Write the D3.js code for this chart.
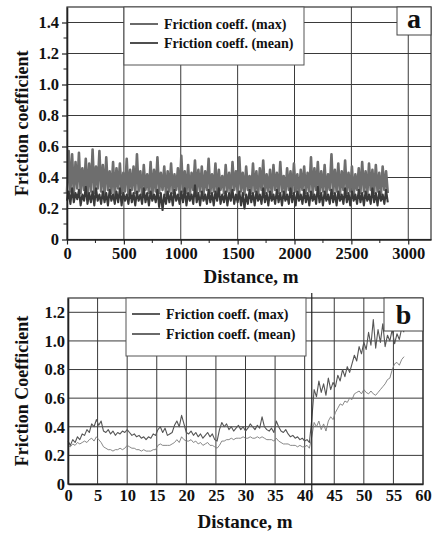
<!DOCTYPE html>
<html>
<head>
<meta charset="utf-8">
<script src="https://cdn.jsdelivr.net/npm/d3@7"></script>
</head>
<body style="margin:0;background:#fff">
<svg id="chart" width="432" height="536" font-family="Liberation Serif" font-weight="bold"></svg>
<script>
// ---- Panel a: long run, sampled every 15 m ----
const aStep = 15;
const aMax = [
  0.30,0.57,0.31,0.55,0.29,0.50,0.33,0.56,0.30,0.46,0.32,0.52,0.28,0.49,0.31,0.58,0.30,0.47,0.33,0.57,
  0.31,0.48,0.29,0.53,0.32,0.44,0.30,0.50,0.28,0.46,0.33,0.49,0.30,0.43,0.31,0.52,0.29,0.45,0.32,0.47,
  0.30,0.55,0.31,0.44,0.29,0.48,0.32,0.42,0.30,0.50,0.28,0.45,0.31,0.53,0.30,0.43,0.32,0.47,0.29,0.44,
  0.31,0.49,0.30,0.42,0.32,0.46,0.29,0.54,0.31,0.44,0.30,0.48,0.28,0.43,0.32,0.51,0.30,0.45,0.31,0.47,
  0.29,0.44,0.32,0.52,0.30,0.42,0.31,0.49,0.28,0.45,0.32,0.41,0.30,0.48,0.31,0.43,0.29,0.50,0.32,0.44,
  0.30,0.53,0.31,0.43,0.29,0.47,0.32,0.41,0.30,0.49,0.31,0.44,0.28,0.46,0.32,0.51,0.30,0.42,0.31,0.45,
  0.29,0.48,0.32,0.43,0.30,0.50,0.31,0.41,0.29,0.46,0.32,0.44,0.30,0.49,0.31,0.42,0.28,0.45,0.32,0.47,
  0.30,0.43,0.31,0.53,0.29,0.46,0.32,0.50,0.30,0.44,0.31,0.48,0.29,0.42,0.32,0.55,0.30,0.45,0.31,0.49,
  0.29,0.44,0.32,0.51,0.30,0.43,0.31,0.47,0.28,0.42,0.32,0.46,0.30,0.50,0.31,0.44,0.29,0.49,0.32,0.45,
  0.30,0.48,0.31,0.43,0.29,0.47,0.32,0.44,0.30
];
const aMean = [
  0.25,0.31,0.23,0.33,0.24,0.30,0.26,0.32,0.22,0.29,0.25,0.34,0.23,0.30,0.24,0.31,0.22,0.33,0.25,0.29,
  0.23,0.31,0.24,0.30,0.22,0.32,0.25,0.29,0.23,0.31,0.24,0.33,0.22,0.30,0.25,0.29,0.23,0.32,0.24,0.30,
  0.22,0.31,0.25,0.29,0.23,0.33,0.24,0.30,0.22,0.31,0.25,0.29,0.24,0.32,0.21,0.30,0.19,0.29,0.23,0.31,
  0.24,0.30,0.22,0.32,0.25,0.29,0.23,0.31,0.24,0.33,0.22,0.30,0.25,0.29,0.23,0.35,0.24,0.30,0.22,0.31,
  0.25,0.29,0.23,0.32,0.24,0.30,0.22,0.31,0.25,0.33,0.23,0.29,0.24,0.31,0.22,0.30,0.25,0.32,0.23,0.29,
  0.24,0.31,0.22,0.30,0.20,0.29,0.23,0.32,0.24,0.30,0.22,0.31,0.25,0.29,0.23,0.33,0.24,0.30,0.22,0.31,
  0.25,0.29,0.23,0.32,0.24,0.30,0.22,0.31,0.25,0.29,0.23,0.33,0.24,0.30,0.22,0.31,0.25,0.29,0.23,0.32,
  0.24,0.30,0.22,0.31,0.25,0.29,0.23,0.34,0.24,0.30,0.22,0.31,0.25,0.29,0.23,0.32,0.24,0.30,0.22,0.31,
  0.25,0.29,0.23,0.33,0.24,0.30,0.22,0.31,0.25,0.29,0.23,0.32,0.24,0.30,0.22,0.31,0.25,0.29,0.23,0.33,
  0.24,0.30,0.22,0.31,0.25,0.29,0.23,0.32,0.24
];
const aXTicks = [0, 500, 1000, 1500, 2000, 2500, 3000];
const aYTicks = [0, 0.2, 0.4, 0.6, 0.8, 1.0, 1.2, 1.4];

// ---- Panel b: short run, sampled every 0.4 m ----
const bStep = 0.4;
const bMax = [
  0.30,0.27,0.31,0.29,0.33,0.31,0.35,0.34,0.38,0.36,0.42,
  0.40,0.45,0.41,0.44,0.37,
  0.36,0.38,0.35,0.37,0.34,0.36,0.35,0.37,0.36,0.38,
  0.36,0.34,0.35,0.33,0.34,0.32,0.33,0.31,0.33,0.32,0.35,0.34,
  0.38,0.40,0.36,0.39,0.34,0.35,0.36,0.41,0.44,0.40,
  0.48,0.42,0.36,0.35,0.37,
  0.34,0.36,0.33,0.35,0.32,0.34,0.36,0.33,0.35,0.31,
  0.30,0.38,0.43,
  0.40,0.42,0.38,0.40,0.37,0.39,0.41,0.38,0.40,0.37,0.39,0.42,0.40,0.38,0.41,0.39,0.47,0.40,0.38,0.37,0.39,0.36,
  0.44,0.40,0.37,0.36,0.38,
  0.35,0.33,0.34,0.32,0.33,0.31,0.32,0.30,0.31,0.29,
  0.45,
  0.66,0.61,0.72,0.64,0.70,0.62,0.74,0.66,0.71,0.68,
  0.76,0.72,0.80,0.75,0.82,0.78,0.84,
  0.90,0.86,0.96,0.91,0.99,
  0.94,1.06,0.97,1.15,0.95,1.08,0.99,1.12,0.96,1.04,
  1.00,1.08,0.98,1.05,1.01,1.09,1.06
];
const bMean = [
  0.27,0.26,0.28,0.27,0.29,0.28,0.29,0.30,0.29,0.31,0.32,
  0.30,0.33,0.31,0.29,0.26,
  0.25,0.24,0.24,0.23,0.24,0.24,0.25,0.24,0.25,0.27,
  0.26,0.25,0.25,0.24,0.24,0.23,0.24,0.23,0.23,0.23,0.24,0.24,
  0.27,0.28,0.27,0.27,0.27,0.27,0.28,0.29,0.31,0.29,
  0.33,0.31,0.30,0.30,0.31,
  0.29,0.30,0.28,0.29,0.27,0.28,0.29,0.27,0.27,0.26,
  0.25,0.27,0.30,
  0.30,0.31,0.31,0.32,0.31,0.32,0.32,0.32,0.33,0.32,0.32,0.33,0.32,0.32,0.33,0.32,0.33,0.32,0.31,0.31,0.31,0.30,
  0.32,0.30,0.29,0.28,0.28,
  0.28,0.27,0.27,0.27,0.26,0.27,0.26,0.26,0.27,0.25,
  0.33,
  0.43,0.40,0.44,0.38,0.42,0.37,0.44,0.47,0.45,0.50,
  0.53,0.56,0.55,0.58,0.57,0.60,0.59,
  0.63,0.64,0.65,0.63,0.66,
  0.64,0.63,0.65,0.63,0.62,0.64,0.66,0.68,0.70,0.73,
  0.74,0.80,0.84,0.85,0.83,0.87,0.89
];
const bXTicks = [0, 5, 10, 15, 20, 25, 30, 35, 40, 45, 50, 55, 60];
const bYTicks = [0, 0.2, 0.4, 0.6, 0.8, 1.0, 1.2];
const bMarker = 41.2;

const legendLabels = ["Friction coeff. (max)", "Friction coeff. (mean)"];

const FONT = "Liberation Serif";
const svg = d3.select("#chart");
const gridColor = "#3a3a3a";
const fmtY = d => d === 0 ? "0" : d3.format(".1f")(d);

// every label goes through here so all text shares one face
function label(sel, size) {
  return sel.attr("font-family", FONT)
    .style("font-family", `"${FONT}"`)
    .style("font-weight", "bold")
    .style("font-size", size + "px")
    .attr("fill", "#111");
}

function panel(opt) {
  const { x, y, xTicks, yTicks, xMinor, yMinor, series, legend, letter, yTitle, xTitleX, xTitleY, tickLen } = opt;
  const [x0, x1] = x.range();
  const [y0, y1] = y.range();
  const g = svg.append("g");

  // gridlines
  g.append("g")
    .selectAll("line").data(yTicks.filter(d => d > 0)).join("line")
    .attr("x1", x0).attr("x2", x1)
    .attr("y1", d => y(d)).attr("y2", d => y(d))
    .attr("stroke", gridColor).attr("stroke-width", 1);
  g.append("g")
    .selectAll("line").data(xTicks.filter(d => d > 0)).join("line")
    .attr("x1", d => x(d)).attr("x2", d => x(d))
    .attr("y1", y0).attr("y2", y1)
    .attr("stroke", gridColor).attr("stroke-width", 1);

  // frame
  g.append("rect")
    .attr("x", x0).attr("y", y1).attr("width", x1 - x0).attr("height", y0 - y1)
    .attr("fill", "none").attr("stroke", "#333").attr("stroke-width", 1.2);

  // data series
  series.forEach(s => {
    const line = d3.line().x((d, i) => x(i * s.step)).y(d => y(d));
    g.append("path").datum(s.values)
      .attr("d", line)
      .attr("fill", "none")
      .attr("stroke", s.color)
      .attr("stroke-width", s.width)
      .attr("stroke-linejoin", "round");
  });

  if (opt.marker !== undefined) {
    g.append("line")
      .attr("x1", x(opt.marker)).attr("x2", x(opt.marker))
      .attr("y1", y1 - 5).attr("y2", y0 + 8)
      .attr("stroke", "#222").attr("stroke-width", 1.2);
  }

  // axes
  const yAxis = d3.axisLeft(y).tickValues(yTicks).tickFormat(fmtY).tickSize(tickLen).tickSizeOuter(0).tickPadding(3);
  const xAxis = d3.axisBottom(x).tickValues(xTicks).tickFormat(d3.format("d")).tickSize(tickLen).tickSizeOuter(0).tickPadding(tickLen > 0 ? 3 : 5);
  const ya = g.append("g").attr("transform", `translate(${x0},0)`).call(yAxis);
  const xa = g.append("g").attr("transform", `translate(0,${y0})`).call(xAxis);
  [ya, xa].forEach(a => {
    a.attr("font-family", FONT).attr("font-size", 16.5);
    a.select(".domain").attr("stroke", "#222").attr("stroke-width", 1.6);
    a.selectAll(".tick line").attr("stroke", "#222").attr("stroke-width", 1.2);
    label(a.selectAll("text"), 16.5);
  });
  if (yMinor) {
    g.append("g").selectAll("line").data(yMinor).join("line")
      .attr("x1", x0 - 3.5).attr("x2", x0).attr("y1", d => y(d)).attr("y2", d => y(d))
      .attr("stroke", "#222").attr("stroke-width", 1);
  }
  if (xMinor) {
    g.append("g").selectAll("line").data(xMinor).join("line")
      .attr("y1", y0).attr("y2", y0 + 3.5).attr("x1", d => x(d)).attr("x2", d => x(d))
      .attr("stroke", "#222").attr("stroke-width", 1);
  }

  // axis titles
  label(g.append("text")
    .attr("transform", `translate(${opt.yTitleX},${(y0 + y1) / 2}) rotate(-90)`)
    .attr("text-anchor", "middle").text(yTitle), 18);
  label(g.append("text")
    .attr("x", xTitleX).attr("y", xTitleY)
    .attr("text-anchor", "middle").text("Distance, m"), 19);

  // legend
  const lg = g.append("g");
  lg.append("rect")
    .attr("x", legend.x).attr("y", legend.y).attr("width", legend.w).attr("height", legend.h)
    .attr("fill", "#fff").attr("stroke", "#555").attr("stroke-width", 1);
  legendLabels.forEach((lab, i) => {
    const ly = legend.y + legend.row0 + i * legend.dy;
    lg.append("line")
      .attr("x1", legend.x + 6).attr("x2", legend.x + 34)
      .attr("y1", ly).attr("y2", ly)
      .attr("stroke", series[i].legendColor).attr("stroke-width", 1.6);
    label(lg.append("text")
      .attr("x", legend.x + 40).attr("y", ly + 5)
      .text(lab), 14);
  });

  // panel letter
  const lb = g.append("g");
  lb.append("rect")
    .attr("x", letter.x).attr("y", y1).attr("width", x1 - letter.x).attr("height", letter.h)
    .attr("fill", "#fff").attr("stroke", "#444").attr("stroke-width", 1);
  label(lb.append("text")
    .attr("x", (letter.x + x1) / 2).attr("y", y1 + letter.h - 7)
    .attr("text-anchor", "middle").text(letter.text), 28);
}

// Panel a
panel({
  x: d3.scaleLinear().domain([0, 3200]).range([67, 431]),
  y: d3.scaleLinear().domain([0, 1.5]).range([239.5, 7]),
  xTicks: aXTicks, yTicks: aYTicks,
  xMinor: d3.range(250, 3200, 500),
  yMinor: d3.range(0.1, 1.5, 0.2),
  tickLen: 5,
  series: [
    { values: aMax, step: aStep, color: "#6e6e6e", width: 2.6, legendColor: "#444" },
    { values: aMean, step: aStep, color: "#3a3a3a", width: 2.1, legendColor: "#222" }
  ],
  legend: { x: 124, y: 7, w: 180, h: 58, row0: 17, dy: 19 },
  letter: { x: 397, h: 28, text: "a" },
  yTitle: "Friction coefficient", yTitleX: 28,
  xTitleX: 251, xTitleY: 283
});

// Panel b
panel({
  x: d3.scaleLinear().domain([0, 60]).range([68, 423]),
  y: d3.scaleLinear().domain([0, 1.3]).range([484, 298]),
  xTicks: bXTicks, yTicks: bYTicks,
  tickLen: 0,
  marker: bMarker,
  series: [
    { values: bMax, step: bStep, color: "#555", width: 1.1, legendColor: "#333" },
    { values: bMean, step: bStep, color: "#7a7a7a", width: 0.9, legendColor: "#444" }
  ],
  legend: { x: 126, y: 298, w: 180, h: 58, row0: 16, dy: 20 },
  letter: { x: 384, h: 33, text: "b" },
  yTitle: "Friction Coefficient", yTitleX: 28,
  xTitleX: 245, xTitleY: 528
});
</script>
</body>
</html>
